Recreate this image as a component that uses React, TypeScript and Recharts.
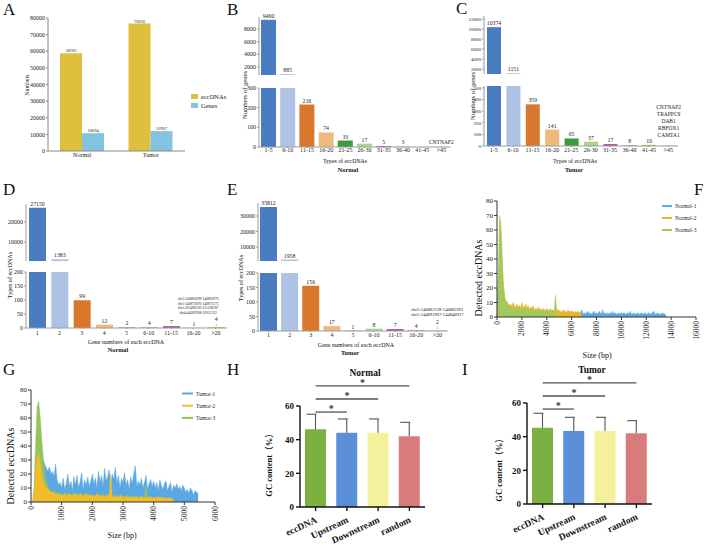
import React from 'react';
import { BarChart, Bar, XAxis, YAxis, Cell, LabelList, AreaChart, Area, ReferenceLine } from 'recharts';

const FONT = '"Liberation Serif", "Noto Sans CJK SC", serif';

// A: totals per group
const groups = ['Normal', 'Tumor'];
const eccDNACounts = [58781, 76656];
const geneCounts = [10694, 11967];

// B, C: number of genes by number of eccDNA types
const typeBins = ['1-5', '6-10', '11-15', '16-20', '21-25', '26-30', '31-35', '36-40', '41-45', '>45'];
const normalGeneCounts = [9460, 885, 216, 74, 33, 17, 5, 3, 0, 1];
const tumorGeneCounts = [10374, 1151, 359, 141, 65, 37, 17, 8, 10, 5];
const normalTopGenes = ['CNTNAP2'];
const tumorTopGenes = ['CNTNAP2', 'TRAPPC9', 'DAB1', 'RBFOX1', 'CAMTA1'];

// D, E: eccDNA types by number of genes carried
const geneBins = ['1', '2', '3', '4', '5', '6-10', '11-15', '16-20', '>20'];
const normalEccCounts = [27150, 1383, 99, 12, 2, 4, 7, 1, 4];
const tumorEccCounts = [35812, 1958, 156, 17, 1, 8, 7, 4, 2];
const normalTopRegions = ['chr5:140885899-140883970', 'chr1:140872693-140873175', 'chr1:205490183-215186787', 'chr4:44082908-32031312'];
const tumorTopRegions = ['chr5:140882128-140882961', 'chr1:144891967-144840917'];

const binColors = ['#4a7dc0', '#aec2e4', '#d9782d', '#efb97c', '#3e9a3c', '#a8d68f', '#b4579f', '#e6a7c8', '#c8b653', '#dde4a2'];
const geneBinColors = ['#4a7dc0', '#aec2e4', '#d9782d', '#efb97c', '#3e9a3c', '#a8d68f', '#b4579f', '#e6a7c8', '#c9c95c'];

// F: size distribution, normal samples (100 bp bins)
const normalSizes = Array.from({ length: 137 }, (_, i) => i * 100);
const normal1 = [
  0, 25, 32, 15, 5, 1, 1, 2, 3, 3, 4,
  3, 5, 4, 3, 6, 4, 5, 3, 4, 5,
  4, 6, 8, 5, 4, 3, 5, 4, 3, 4,
  3, 4, 5, 3, 4, 3, 2, 4, 3, 3,
  4, 3, 2, 3, 5, 3, 4, 2, 3, 3,
  3, 2, 4, 3, 2, 3, 3, 2, 4, 2,
  3, 2, 3, 2, 4, 2, 3, 5, 2, 3,
  2, 3, 4, 2, 3, 2, 3, 4, 2, 3,
  2, 4, 3, 2, 5, 2, 3, 2, 3, 2,
  3, 2, 4, 2, 3, 2, 2, 3, 2, 3,
  2, 3, 2, 2, 3, 2, 4, 2, 2, 3,
  2, 2, 3, 2, 2, 3, 2, 2, 3, 2,
  2, 3, 2, 2, 3, 4, 2, 2, 3, 2,
  2, 2, 3, 2, 2, 1,
];
const normal2 = [
  0, 10, 58, 62, 40, 22, 14, 10, 11, 9, 8,
  9, 7, 10, 8, 6, 9, 7, 8, 6, 10,
  7, 6, 9, 6, 8, 5, 7, 6, 8, 5,
  6, 5, 7, 5, 6, 4, 6, 5, 4, 6,
  5, 4, 6, 4, 5, 4, 5, 6, 4, 5,
  4, 3, 5, 4, 4, 3, 5, 4, 3, 4,
  4, 3, 4, 3, 4, 3, 3, 3,
];
const normal3 = [
  0, 22, 70, 66, 45, 25, 15, 11, 9, 8, 7,
  7, 6, 8, 6, 7, 5, 6, 7, 5, 6,
  6, 5, 7, 5, 6, 5, 6, 4, 5, 5,
  5, 4, 5, 4, 5, 4, 4, 5, 4, 4,
  4, 5, 4, 4, 4, 4, 15, 4,
];

// G: size distribution, tumor samples (50 bp bins)
const tumorSizes = Array.from({ length: 110 }, (_, i) => i * 50);
const tumor1 = [
  0, 0, 3, 15, 35, 48, 45, 38, 30, 27, 24, 22, 25, 20, 22, 18, 27, 16, 12, 14, 10,
  17, 9, 13, 20, 11, 15, 8, 18, 12, 19, 10, 14, 21, 9, 16, 12, 18, 11, 15, 20,
  13, 17, 10, 22, 14, 19, 11, 24, 15, 18, 23, 12, 20, 16, 25, 13, 19, 10, 17, 14,
  21, 12, 16, 9, 18, 13, 20, 26, 11, 15, 12, 17, 10, 14, 19, 9, 13, 16, 11, 15,
  10, 14, 8, 16, 12, 9, 13, 15, 8, 11, 14, 7, 12, 10, 13, 9, 11, 8, 12, 10,
  7, 9, 6, 10, 8, 5, 8, 7, 6,
];
const tumor2 = [
  0, 0, 5, 20, 32, 35, 28, 20, 15, 12, 10, 9, 8, 7, 7, 6, 6, 5, 6, 5, 5,
  5, 6, 4, 5, 6, 5, 4, 6, 5, 5, 4, 6, 5, 4, 5, 6, 4, 5, 5, 4,
  5, 4, 6, 4, 5, 4, 5, 3, 4, 5, 4, 20, 3, 4, 5, 4, 3, 4, 5, 3,
  3, 4, 3, 4, 3, 3, 4, 3, 4, 3, 3, 4, 3, 3, 4, 3, 3, 4, 3, 3,
  3, 3, 4, 3, 3, 3, 3, 2, 3, 3, 3, 2, 2,
];
const tumor3 = [
  0, 0, 10, 40, 68, 72, 60, 45, 30, 20, 14, 11, 9, 8, 7, 8, 6, 7, 6, 6, 5,
  6, 5, 7, 5, 6, 5, 6, 5, 7, 5, 6, 4, 5, 6, 5, 5, 6, 4, 5, 5,
  5, 4, 5, 6, 4, 5, 4, 5, 4, 6, 4, 5, 4, 4, 5, 4, 4, 5, 4, 4,
  4, 4, 5, 3, 4, 4, 3, 4, 4, 3, 4, 3, 4, 3, 12, 3,
];

// H, I: GC content
const gcCats = ['eccDNA', 'Upstream', 'Downstream', 'random'];
const gcNormalMean = [46.2, 44.1, 44.1, 42.0];
const gcNormalSd = [8.9, 8.2, 8.2, 8.3];
const gcTumorMean = [45.3, 43.4, 43.4, 42.0];
const gcTumorSd = [8.6, 8.1, 8.1, 7.5];
const gcColors = ['#7cb041', '#5b8fd8', '#f4f09b', '#d87b7b'];
const sigPairs = [['eccDNA', 'random'], ['eccDNA', 'Downstream'], ['eccDNA', 'Upstream']];

const abs = (left: number, top: number): React.CSSProperties => ({ position: 'absolute', left, top });

const boxOf = (lp: any) => lp.viewBox ?? lp;

type BrokenProps = {
  left: number; plotW: number; yw: number; tickFont?: number;
  upTop: number; upBottom: number; upDomain: [number, number]; upTicks: number[];
  lowTop: number; lowBottom: number; lowMax: number; lowTicks: number[];
  cats: string[]; values: number[]; colors: string[]; barSize: number; xTickGap: number;
  renderLast: (cx: number, top: number, value: number) => React.ReactNode;
};

function BrokenBars(p: BrokenProps) {
  const last = p.cats.length - 1;
  const rows = p.cats.map((name, i) => ({
    name,
    value: p.values[i],
    up: p.values[i] > p.lowMax ? p.values[i] : null,
    low: p.values[i] <= p.lowMax && i !== last ? p.values[i] : null,
    special: i === last ? p.values[i] : null,
  }));
  const axisColor = '#9c9c9c';
  const tick = { fontSize: 6, fill: '#222' };
  const yTick = { fontSize: p.tickFont ?? 6, fill: '#222' };
  const numLabel = (lp: any) => {
    if (lp.value == null) return null;
    const b = boxOf(lp);
    return <text x={b.x + b.width / 2} y={b.y - 2} textAnchor="middle" fontSize={5.8} fill="#222">{lp.value}</text>;
  };
  const lastLabel = (lp: any) => {
    if (lp.value == null) return null;
    const b = boxOf(lp);
    return p.renderLast(b.x + b.width / 2, b.y, lp.value);
  };
  const right = 22;
  const w = p.yw + p.plotW + right;
  return (
    <>
      <div style={abs(p.left - p.yw, p.upTop - 10)}>
        <BarChart width={w} height={10 + p.upBottom - p.upTop} data={rows} margin={{ top: 10, right, bottom: 0, left: 0 }}>
          <XAxis dataKey="name" hide />
          <YAxis width={p.yw} type="number" domain={p.upDomain} ticks={p.upTicks} allowDataOverflow interval={0}
            tick={yTick} tickSize={2} tickMargin={1} stroke={axisColor} />
          <Bar dataKey="up" barSize={p.barSize} isAnimationActive={false}>
            {rows.map((r, i) => <Cell key={r.name} fill={p.colors[i]} />)}
            <LabelList dataKey="up" content={numLabel} />
          </Bar>
        </BarChart>
      </div>
      <div style={abs(p.left - p.yw, p.lowTop - 6)}>
        <BarChart width={w} height={6 + p.lowBottom - p.lowTop + 10} data={rows} margin={{ top: 6, right, bottom: 0, left: 0 }}>
          <XAxis dataKey="name" height={10} interval={0} tick={tick} tickSize={1} tickMargin={p.xTickGap} stroke={axisColor} />
          <YAxis width={p.yw} type="number" domain={[0, p.lowMax]} ticks={p.lowTicks} allowDataOverflow interval={0}
            tick={yTick} tickSize={2} tickMargin={1} stroke={axisColor} />
          <Bar dataKey="value" barSize={p.barSize} isAnimationActive={false}>
            {rows.map((r, i) => <Cell key={r.name} fill={p.colors[i]} />)}
            <LabelList dataKey="low" content={numLabel} />
            <LabelList dataKey="special" content={lastLabel} />
          </Bar>
        </BarChart>
      </div>
    </>
  );
}

const namesLabel = (names: string[], gap: number) => (cx: number, top: number) => (
  <g>
    {names.map((n, i) => (
      <text key={n} x={cx} y={top - gap - (names.length - 1 - i) * 7} textAnchor="middle" fontSize={5.5} fill="#222">{n}</text>
    ))}
  </g>
);

const regionsLabel = (regions: string[], dx: number, fs: number, base: number, step: number) =>
  (cx: number, top: number, value: number) => (
    <g>
      {regions.map((r, i) => (
        <text key={r} x={cx + dx} y={top - base - (regions.length - 1 - i) * step} textAnchor="middle" fontSize={fs} fill="#222">{r}</text>
      ))}
      <text x={cx} y={top - 6} textAnchor="middle" fontSize={5.5} fill="#222">{value}</text>
      <text x={cx} y={top - 1} textAnchor="middle" fontSize={4.5} fill="#222">↓</text>
    </g>
  );

const RotTick = (props: any) => {
  const { x, y, payload } = props;
  return (
    <text x={x} y={y} transform={`rotate(-90 ${x} ${y})`} textAnchor="end" dominantBaseline="central" fontSize={7.5} fill="#222">
      {payload.value}
    </text>
  );
};

type SizeProps = {
  left: number; top: number; plotW: number; plotH: number; xMax: number; xTicks: number[];
  rows: any[]; colors: string[];
};

function SizePanel(p: SizeProps) {
  return (
    <div style={abs(p.left - 16, p.top - 4)}>
      <AreaChart width={16 + p.plotW + 6} height={4 + p.plotH + 28} data={p.rows} margin={{ top: 4, right: 6, bottom: 0, left: 0 }}>
        <XAxis dataKey="size" type="number" domain={[0, p.xMax]} ticks={p.xTicks} interval={0} height={28}
          tick={RotTick} tickSize={3} tickMargin={1} stroke="#333" />
        <YAxis width={16} type="number" domain={[0, 80]} ticks={[0, 10, 20, 30, 40, 50, 60, 70, 80]} interval={0}
          tick={{ fontSize: 7, fill: '#222' }} tickSize={3} tickMargin={1} stroke="#333" />
        {['s1', 's2', 's3'].map((k, i) => (
          <Area key={k} dataKey={k} type="linear" stroke={p.colors[i]} strokeWidth={0.5} fill={p.colors[i]} fillOpacity={1}
            dot={false} activeDot={false} isAnimationActive={false} />
        ))}
      </AreaChart>
    </div>
  );
}

const GcBar = (props: any) => {
  const { x, y, width, height, payload, index } = props;
  const perUnit = payload.mean ? height / payload.mean : 0;
  const top = y - payload.sd * perUnit;
  const cx = x + width / 2;
  return (
    <g>
      <rect x={x} y={y} width={width} height={height} fill={gcColors[index]} />
      <line x1={cx} y1={y} x2={cx} y2={top} stroke="#555" strokeWidth={1.1} />
      <line x1={cx - 9} y1={top} x2={cx + 1} y2={top} stroke="#555" strokeWidth={1.1} />
    </g>
  );
};

const GcTick = (props: any) => {
  const { x, y, payload } = props;
  return (
    <text transform={`translate(${x + 2},${y + 9}) rotate(-25)`} textAnchor="end" fontSize={9.5} fontWeight="bold" fill="#111">
      {payload.value}
    </text>
  );
};

function GcPanel({ left, top, means, sds }: { left: number; top: number; means: number[]; sds: number[] }) {
  const rows = gcCats.map((name, i) => ({ name, mean: means[i], sd: sds[i] }));
  return (
    <div style={abs(left - 22, top - 40)}>
      <BarChart width={22 + 125 + 10} height={40 + 101 + 42} data={rows} margin={{ top: 40, right: 10, bottom: 0, left: 0 }}>
        <XAxis dataKey="name" height={42} interval={0} tick={GcTick} tickSize={4} stroke="#111" strokeWidth={1.4} />
        <YAxis width={22} type="number" domain={[0, 60]} ticks={[0, 20, 40, 60]} interval={0}
          tick={{ fontSize: 9, fontWeight: 'bold', fill: '#111' }} tickSize={4} tickMargin={2} stroke="#111" strokeWidth={1.4} />
        <Bar dataKey="mean" barSize={21} shape={GcBar} isAnimationActive={false} />
        {sigPairs.map(([a, b], i) => (
          <ReferenceLine key={b} ifOverflow="visible" stroke="#555" strokeWidth={1.3}
            segment={[{ x: a, y: 71.9 - i * 7.75 }, { x: b, y: 71.9 - i * 7.75 }]}
            label={{ value: '*', position: 'top', offset: 0, fontSize: 10, fontWeight: 'bold', fill: '#333' }} />
        ))}
      </BarChart>
    </div>
  );
}

const T = ({ x, y, size, children, bold, rot }: { x: number; y: number; size: number; children: React.ReactNode; bold?: boolean; rot?: boolean }) => (
  <text transform={`translate(${x},${y})${rot ? ' rotate(-90)' : ''}`} textAnchor="middle" dominantBaseline="central"
    fontSize={size} fontWeight={bold ? 'bold' : 'normal'} fill="#111">{children}</text>
);

function Overlay() {
  const letters: [string, number, number][] = [
    ['A', 3, 15], ['B', 227, 15], ['C', 456, 14],
    ['D', 3, 195], ['E', 227, 195], ['F', 694, 195],
    ['G', 3, 375], ['H', 227, 375], ['I', 462, 375],
  ];
  const fLegend = ['Normal-1', 'Normal-2', 'Normal-3'];
  const gLegend = ['Tumor-1', 'Tumor-2', 'Tumor-3'];
  const fColors = ['#5aaae8', '#ebb523', '#a3c95c'];
  const gColors = ['#5aa8e3', '#f1bd2b', '#93c35a'];
  return (
    <svg width={708} height={554} style={{ position: 'absolute', left: 0, top: 0, pointerEvents: 'none' }}>
      {letters.map(([l, x, y]) => (
        <text key={l} x={x} y={y} fontSize={17} fill="#111">{l}</text>
      ))}
      {/* A */}
      <T x={27} y={85} size={5.8} rot>Numbers</T>
      <rect x={191} y={94} width={7} height={5} fill="#dfbf3e" />
      <text x={201} y={96.5} fontSize={6.5} dominantBaseline="central" fill="#222">eccDNAs</text>
      <rect x={191} y={103} width={7} height={5} fill="#83c3e2" />
      <text x={201} y={105.5} fontSize={6.5} dominantBaseline="central" fill="#222">Genes</text>
      {/* B, C */}
      <T x={244} y={95} size={6.6} rot>Numbers of genes</T>
      <T x={345} y={161} size={5.8}>Types of eccDNAs</T>
      <T x={348} y={169} size={6.2} bold>Normal</T>
      <T x={472} y={96} size={6.6} rot>Numbers of genes</T>
      <T x={575} y={161} size={5.8}>Types of eccDNAs</T>
      <T x={574} y={169} size={6.2} bold>Tumor</T>
      {/* D, E */}
      <T x={10} y={275} size={6.1} rot>Types of eccDNAs</T>
      <T x={126} y={342} size={6}>Gene numbers of each eccDNA</T>
      <T x={118} y={349} size={6.2} bold>Normal</T>
      <T x={241} y={278} size={6.1} rot>Types of eccDNAs</T>
      <T x={356} y={345} size={6}>Gene numbers of each eccDNA</T>
      <T x={350} y={352} size={6.2} bold>Tumor</T>
      {/* F, G */}
      <T x={478} y={278} size={10} rot>Detected eccDNAs</T>
      <T x={597} y={355} size={8}>Size (bp)</T>
      {fLegend.map((n, i) => (
        <g key={n}>
          <line x1={662} x2={672} y1={206 + i * 12} y2={206 + i * 12} stroke={fColors[i]} strokeWidth={2} />
          <text x={675} y={206 + i * 12} fontSize={5.5} dominantBaseline="central" fill="#222">{n}</text>
        </g>
      ))}
      <T x={10} y={466} size={10} rot>Detected eccDNAs</T>
      <T x={122} y={535} size={8}>Size (bp)</T>
      {gLegend.map((n, i) => (
        <g key={n}>
          <line x1={182} x2={193} y1={393.5 + i * 12.2} y2={393.5 + i * 12.2} stroke={gColors[i]} strokeWidth={2} />
          <text x={196} y={393.5 + i * 12.2} fontSize={5.5} dominantBaseline="central" fill="#222">{n}</text>
        </g>
      ))}
      {/* H, I */}
      <T x={269} y={463} size={8.5} bold rot>GC content（%）</T>
      <T x={365} y={372.5} size={9.5} bold>Normal</T>
      <T x={499} y={468} size={8.5} bold rot>GC content（%）</T>
      <T x={592} y={369.5} size={9.5} bold>Tumor</T>
    </svg>
  );
}

export default function App() {
  const aRows = groups.map((g, i) => ({ name: g, ecc: eccDNACounts[i], genes: geneCounts[i] }));
  const fRows = normalSizes.map((s, i) => ({ size: s, s1: normal1[i] ?? null, s2: normal2[i] ?? null, s3: normal3[i] ?? null }));
  const gRows = tumorSizes.map((s, i) => ({ size: s, s1: tumor1[i] ?? null, s2: tumor3[i] ?? null, s3: tumor2[i] ?? null }));

  return (
    <div style={{ position: 'absolute', left: 0, top: 0, width: 708, height: 554, background: '#fff', overflow: 'hidden', fontFamily: FONT }}>
      {/* A */}
      <div style={abs(16, 10)}>
        <BarChart width={173} height={157} data={aRows} margin={{ top: 8, right: 4, bottom: 2, left: 0 }} barGap={0}>
          <XAxis dataKey="name" height={14} tick={{ fontSize: 6, fill: '#222' }} tickSize={0} tickMargin={2} stroke="#888" />
          <YAxis width={32} type="number" domain={[0, 80000]} ticks={[0, 10000, 20000, 30000, 40000, 50000, 60000, 70000, 80000]} interval={0}
            tick={{ fontSize: 6, fill: '#222' }} tickSize={2} tickMargin={1} stroke="#888" />
          <Bar dataKey="ecc" fill="#dfbf3e" barSize={22} isAnimationActive={false}>
            <LabelList dataKey="ecc" position="top" offset={1} fontSize={4.5} fill="#222" />
          </Bar>
          <Bar dataKey="genes" fill="#83c3e2" barSize={22} isAnimationActive={false}>
            <LabelList dataKey="genes" position="top" offset={1} fontSize={4.5} fill="#222" />
          </Bar>
        </BarChart>
      </div>

      {/* B */}
      <BrokenBars left={259} plotW={192} yw={24}
        upTop={17} upBottom={75} upDomain={[740, 9900]} upTicks={[2000, 4000, 6000, 8000]}
        lowTop={88} lowBottom={147} lowMax={300} lowTicks={[0, 100, 200, 300]}
        cats={typeBins} values={normalGeneCounts} colors={binColors} barSize={15} xTickGap={0}
        renderLast={namesLabel(normalTopGenes, 3)} />

      {/* C */}
      <BrokenBars left={484} plotW={194} yw={24} tickFont={5}
        upTop={16} upBottom={74} upDomain={[1000, 12600]} upTicks={[2000, 4000, 6000, 8000, 10000, 12000]}
        lowTop={86} lowBottom={146} lowMax={517} lowTicks={[0, 100, 200, 300, 400, 500]}
        cats={typeBins} values={tumorGeneCounts} colors={binColors} barSize={14} xTickGap={1}
        renderLast={namesLabel(tumorTopGenes, 8)} />

      {/* D */}
      <BrokenBars left={26} plotW={201} yw={20}
        upTop={204} upBottom={261} upDomain={[500, 29000]} upTicks={[10000, 20000]}
        lowTop={272} lowBottom={328} lowMax={200} lowTicks={[0, 50, 100, 150, 200]}
        cats={geneBins} values={normalEccCounts} colors={geneBinColors} barSize={17} xTickGap={2}
        renderLast={regionsLabel(normalTopRegions, -18, 3.6, 13, 4.5)} />

      {/* E */}
      <BrokenBars left={258} plotW={190} yw={22}
        upTop={203} upBottom={261} upDomain={[1000, 38400]} upTicks={[10000, 20000, 30000]}
        lowTop={273} lowBottom={331} lowMax={200} lowTicks={[0, 50, 100, 150, 200]}
        cats={geneBins} values={tumorEccCounts} colors={geneBinColors} barSize={17} xTickGap={1}
        renderLast={regionsLabel(tumorTopRegions, 0, 4.6, 14, 5)} />

      {/* F */}
      <SizePanel left={497} top={201} plotW={199} plotH={116} xMax={16000}
        xTicks={[0, 2000, 4000, 6000, 8000, 10000, 12000, 14000, 16000]}
        rows={fRows} colors={['#5aaae8', '#ebb523', '#a3c95c']} />

      {/* G */}
      <SizePanel left={31} top={390} plotW={184} plotH={112} xMax={6000}
        xTicks={[0, 1000, 2000, 3000, 4000, 5000, 6000]}
        rows={gRows} colors={['#5aa8e3', '#93c35a', '#f1bd2b']} />

      {/* H, I */}
      <GcPanel left={300} top={406} means={gcNormalMean} sds={gcNormalSd} />
      <GcPanel left={527} top={403} means={gcTumorMean} sds={gcTumorSd} />

      <Overlay />
    </div>
  );
}
